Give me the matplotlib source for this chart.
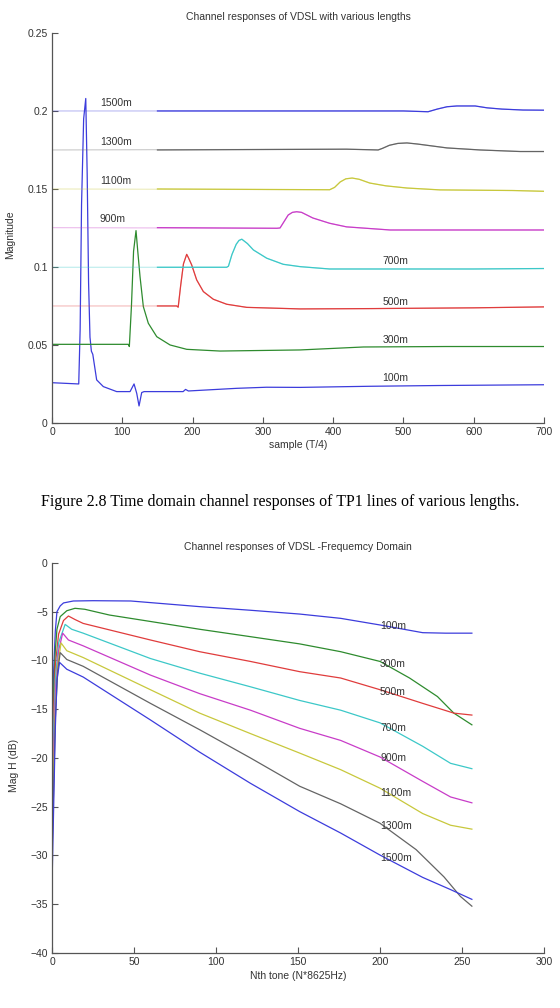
import matplotlib
matplotlib.use("Agg")
import matplotlib.pyplot as plt

plt.rcParams['font.family'] = ['Liberation Sans', 'DejaVu Sans']

# ---- time domain: (sample, magnitude) keypoints ----
lengths = ["100m", "300m", "500m", "700m", "900m", "1100m", "1300m", "1500m"]
colors = ['#3c3cdc', '#2e8b2e', '#e03c3c', '#3cc8c8', '#c83cc8', '#c8c83c', '#646464', '#3c3cdc']

t_100_x = [0, 38, 40, 42, 45, 48, 50, 52, 54, 56, 58, 63.5, 73, 92, 111, 116.7, 120.5, 123.8, 127.6, 131,
           186.5, 190, 194, 262.7, 305, 353, 450, 550, 700]
t_100_y = [0.0258, 0.0250, 0.060, 0.140, 0.195, 0.208, 0.16, 0.09, 0.055, 0.046, 0.044, 0.0276, 0.0233,
           0.0201, 0.0201, 0.025, 0.019, 0.0109, 0.0195, 0.0201, 0.0201, 0.0215, 0.0205, 0.0222, 0.0229,
           0.0228, 0.0235, 0.024, 0.0245]
t_300_x = [0, 108.6, 110, 113, 116, 119.5, 122, 125.2, 129.9, 137, 149, 167.9, 191.6, 239, 353, 443, 560, 700]
t_300_y = [0.0504, 0.0504, 0.049, 0.075, 0.110, 0.1233, 0.110, 0.0938, 0.0746, 0.0639, 0.0553, 0.050,
           0.0472, 0.0461, 0.0468, 0.0487, 0.0490, 0.049]
t_500_x = [0, 177.4, 179.5, 183, 187, 191.6, 194, 198.7, 205.8, 215.3, 229.5, 248.5, 277, 353, 450, 600, 700]
t_500_y = [0.075, 0.075, 0.0742, 0.088, 0.102, 0.1081, 0.106, 0.1013, 0.0917, 0.0842, 0.0793, 0.0761,
           0.0741, 0.0731, 0.0733, 0.0738, 0.0744]
t_700_x = [0, 248.5, 251, 256, 262, 266, 270, 278, 286.5, 305.5, 329, 353, 395, 600, 700]
t_700_y = [0.0998, 0.0998, 0.1005, 0.108, 0.1145, 0.117, 0.1178, 0.1150, 0.1109, 0.1056, 0.1017, 0.1002,
           0.0987, 0.0987, 0.099]
t_900_x = [0, 320, 324.4, 330, 336, 342, 348, 355, 371, 395, 419, 481, 700]
t_900_y = [0.1252, 0.1248, 0.1250, 0.129, 0.1333, 0.1350, 0.1354, 0.1350, 0.1314, 0.128, 0.1257, 0.1237, 0.1237]
t_1100_x = [0, 395, 402, 410, 418, 427, 437, 452, 475, 505, 552, 656, 700]
t_1100_y = [0.150, 0.1495, 0.151, 0.1545, 0.1565, 0.157, 0.1562, 0.1538, 0.152, 0.1506, 0.1494, 0.149, 0.1485]
t_1300_x = [0, 419, 464, 470, 480, 492, 505, 520, 562, 609, 666, 700]
t_1300_y = [0.175, 0.1755, 0.1750, 0.1760, 0.1780, 0.1792, 0.1795, 0.1788, 0.1763, 0.175, 0.174, 0.174]
t_1500_x = [0, 500, 535, 548, 562, 576, 602, 619, 640, 670, 700]
t_1500_y = [0.200, 0.200, 0.1995, 0.2012, 0.2027, 0.2032, 0.2032, 0.202, 0.2012, 0.2006, 0.2005]

time_x = [t_100_x, t_300_x, t_500_x, t_700_x, t_900_x, t_1100_x, t_1300_x, t_1500_x]
time_y = [t_100_y, t_300_y, t_500_y, t_700_y, t_900_y, t_1100_y, t_1300_y, t_1500_y]

# label anchors (left edge x, centre y)
time_lab_x = [470, 470, 470, 470, 68, 68, 68, 68]
time_lab_y = [0.0288, 0.053, 0.0776, 0.104, 0.1308, 0.155, 0.180, 0.205]

# ---- frequency domain: (tone, dB) keypoints ----
f_100_x = [0, 1, 2, 3, 5, 7, 13, 25, 48, 90, 121, 151, 176, 200, 226, 240, 256]
f_100_y = [-17, -11, -7, -5.0, -4.4, -4.1, -3.9, -3.87, -3.9, -4.48, -4.85, -5.24, -5.68, -6.36, -7.15, -7.2, -7.2]
f_300_x = [0, 1, 2, 3, 5, 9, 14, 20, 35, 60, 90, 121, 151, 176, 200, 218, 235, 245, 256]
f_300_y = [-19, -13, -9, -6.8, -5.5, -4.9, -4.65, -4.75, -5.34, -6.0, -6.8, -7.56, -8.3, -9.1, -10.1,
           -11.8, -13.7, -15.4, -16.6]
f_500_x = [0, 1, 2, 4, 7, 10, 14, 19, 60, 90, 121, 151, 176, 200, 226, 245, 256]
f_500_y = [-21, -15, -10.5, -7.3, -5.9, -5.44, -5.8, -6.2, -7.9, -9.1, -10.1, -11.15, -11.8, -13.0, -14.4, -15.4, -15.6]
f_700_x = [0, 1, 2, 4, 8, 12, 19, 60, 90, 121, 151, 176, 200, 226, 243, 256]
f_700_y = [-23, -17, -12, -8.2, -6.3, -6.8, -7.2, -9.8, -11.3, -12.7, -14.1, -15.1, -16.4, -18.8, -20.55, -21.1]
f_900_x = [0, 1, 2, 4, 6.5, 10, 19, 60, 90, 121, 151, 176, 200, 226, 243, 256]
f_900_y = [-25, -19, -13.5, -9, -7.2, -7.9, -8.5, -11.5, -13.4, -15.1, -16.96, -18.2, -19.9, -22.4, -24.0, -24.6]
f_1100_x = [0, 1, 2, 3.5, 5.5, 9, 19, 60, 90, 121, 151, 176, 200, 226, 243, 256]
f_1100_y = [-27, -21, -15, -10.5, -8.2, -9.0, -9.7, -13.0, -15.4, -17.5, -19.5, -21.2, -23.1, -25.7, -26.9, -27.3]
f_1300_x = [0, 1, 2, 3.5, 5, 9, 19, 60, 90, 121, 151, 176, 200, 222, 239, 249, 256]
f_1300_y = [-30, -23, -16, -11, -9.2, -9.9, -10.6, -14.4, -17.1, -20.0, -22.9, -24.7, -26.7, -29.4, -32.2, -34.2, -35.2]
f_1500_x = [0, 1, 2, 3, 4.6, 9, 19, 60, 90, 121, 151, 176, 200, 226, 243, 256]
f_1500_y = [-33, -25, -17, -12, -10.2, -10.9, -11.7, -16.1, -19.4, -22.6, -25.5, -27.7, -29.96, -32.25, -33.5, -34.5]

freq_x = [f_100_x, f_300_x, f_500_x, f_700_x, f_900_x, f_1100_x, f_1300_x, f_1500_x]
freq_y = [f_100_y, f_300_y, f_500_y, f_700_y, f_900_y, f_1100_y, f_1300_y, f_1500_y]
freq_lab_y = [-6.5, -10.4, -13.2, -16.9, -20.0, -23.6, -27.0, -30.3]

txt = '#333333'
fs = 7.5


def style(ax):
    for s in ['top', 'right']:
        ax.spines[s].set_visible(False)
    for s in ['left', 'bottom']:
        ax.spines[s].set_color('#555555')
        ax.spines[s].set_linewidth(0.9)
    ax.tick_params(direction='in', length=4, width=0.8, color='#555555',
                   labelsize=fs, labelcolor=txt, pad=3)


fig = plt.figure(figsize=(5.6, 10.08), dpi=100)

# top panel
ax1 = fig.add_axes([0.0929, 0.5804, 0.8786, 0.3869])
for i in range(len(lengths)):
    xs, ys = time_x[i], time_y[i]
    if i >= 2:
        # flat lead-in is drawn fainter in the original
        ax1.plot(xs, ys, color=colors[i], lw=0.8, alpha=0.35)
        k = [j for j, v in enumerate(xs) if v >= 150]
        ax1.plot([150] + [xs[j] for j in k], [ys[0]] + [ys[j] for j in k], color=colors[i], lw=0.9)
    else:
        ax1.plot(xs, ys, color=colors[i], lw=0.9)
    ax1.text(time_lab_x[i], time_lab_y[i], lengths[i], fontsize=fs, color=txt, va='center', ha='left')
ax1.set_xlim(0, 700)
ax1.set_ylim(0, 0.25)
ax1.set_xticks([0, 100, 200, 300, 400, 500, 600, 700])
ax1.set_yticks([0, 0.05, 0.1, 0.15, 0.2, 0.25])
ax1.set_yticklabels(['0', '0.05', '0.1', '0.15', '0.2', '0.25'])
style(ax1)
ax1.set_title("Channel responses of VDSL with various lengths", fontsize=fs, color=txt, pad=9)
ax1.set_xlabel("sample (T/4)", fontsize=fs, color=txt, labelpad=2)

# bottom panel
ax2 = fig.add_axes([0.0929, 0.0546, 0.8786, 0.3869])
for i in range(len(lengths)):
    ax2.plot(freq_x[i], freq_y[i], color=colors[i], lw=0.9)
    ax2.text(200, freq_lab_y[i], lengths[i], fontsize=fs, color=txt, va='center', ha='left')
ax2.set_xlim(0, 300)
ax2.set_ylim(-40, 0)
ax2.set_xticks([0, 50, 100, 150, 200, 250, 300])
ax2.set_yticks([-40, -35, -30, -25, -20, -15, -10, -5, 0])
style(ax2)
ax2.set_title("Channel responses of VDSL -Frequemcy Domain", fontsize=fs, color=txt, pad=9)
ax2.set_xlabel("Nth tone (N*8625Hz)", fontsize=fs, color=txt, labelpad=3)

# y labels and caption
fig.text(10 / 560, 1 - 235 / 1008, "Magnitude", rotation=90, fontsize=fs, color=txt, ha='center', va='center')
fig.text(14 / 560, 1 - 765 / 1008, "Mag H (dB)", rotation=90, fontsize=fs, color=txt, ha='center', va='center')
fig.text(0.5, 1 - 502 / 1008, "Figure 2.8 Time domain channel responses of TP1 lines of various lengths.",
         fontsize=11.5, family='Liberation Serif', color='black', ha='center', va='center')

fig.savefig("out.png", dpi=100)
